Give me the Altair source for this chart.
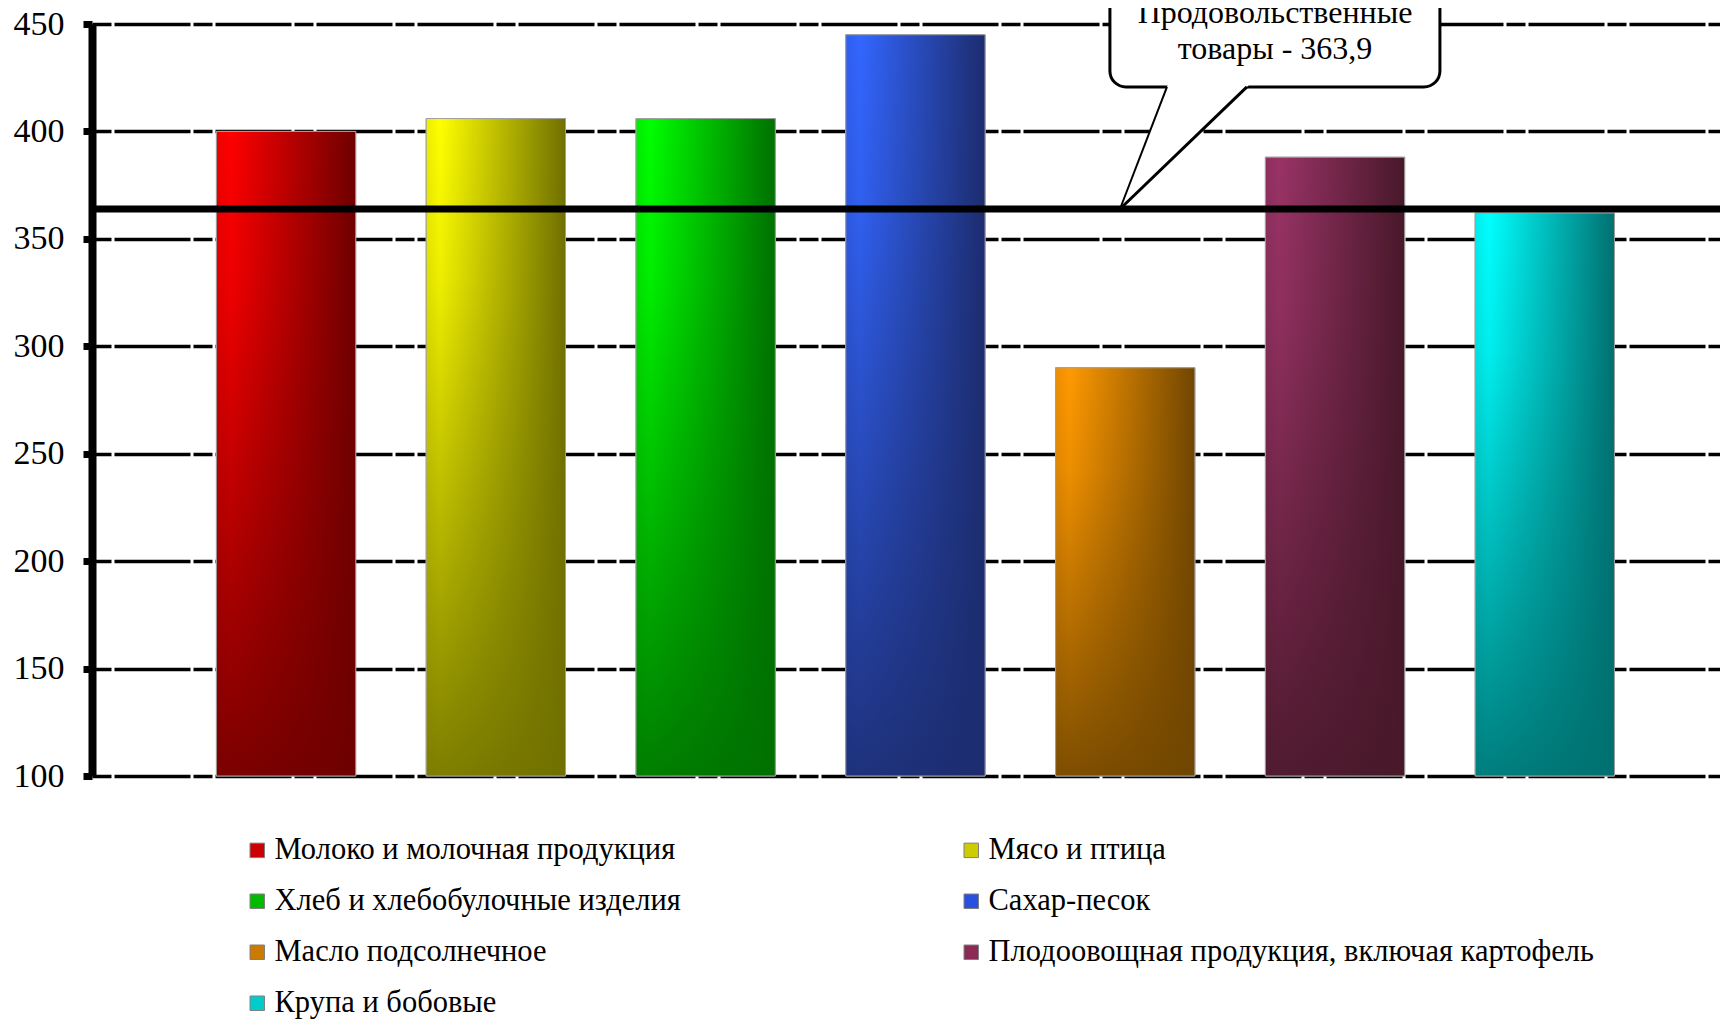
import altair as alt
import pandas as pd

categories = [
    "Молоко и молочная продукция",
    "Мясо и птица",
    "Хлеб и хлебобулочные изделия",
    "Сахар-песок",
    "Масло подсолнечное",
    "Плодоовощная продукция, включая картофель",
    "Крупа и бобовые",
]
values = [400, 406, 406, 445, 290, 388, 362]
positions = [1, 2, 3, 4, 5, 6, 7]
bright = ["#ff0000", "#ffff00", "#00ff00", "#3366ff", "#ff9900", "#993366", "#00ffff"]
dark_rgb = [(110, 0, 0), (112, 112, 0), (0, 112, 0), (28, 44, 110), (112, 70, 0), (72, 24, 42), (0, 112, 112)]
legend_colors = ["#cc0000", "#cccc00", "#00bb00", "#2a50e0", "#cc7a00", "#8a2a55", "#00cccc"]

avg_value = 363.9
avg_label = ["Продовольственные", "товары - 363,9"]
y_min, y_max = 100, 450

df = pd.DataFrame({"cat": categories, "value": values, "pos": positions})
df["base"] = y_min

FONT = "Liberation Serif"
X_DOMAIN = [0.075, 7.835]
HALF = 0.332

xs = alt.Scale(domain=X_DOMAIN, nice=False, zero=False)
ys = alt.Scale(domain=[y_min, y_max], nice=False, zero=False)

base = alt.Chart(df).transform_calculate(
    x0=f"datum.pos - {HALF}", x1=f"datum.pos + {HALF}"
)

legend_layer = base.mark_bar(stroke="#a0a0a0", strokeWidth=1).encode(
    x=alt.X("x0:Q", scale=xs, axis=None),
    x2="x1:Q",
    y=alt.Y(
        "value:Q",
        scale=ys,
        title=None,
        axis=alt.Axis(
            values=[100, 150, 200, 250, 300, 350, 400, 450],
            grid=True,
            gridColor="black",
            gridWidth=3.5,
            gridDash=[19, 3, 76, 3],
            domainColor="black",
            domainWidth=8,
            tickColor="black",
            tickWidth=7,
            tickSize=9,
            labelFont=FONT,
            labelFontSize=34,
            labelColor="black",
            labelPadding=19,
        ),
    ),
    y2="base:Q",
    color=alt.Color(
        "cat:N",
        scale=alt.Scale(domain=categories, range=legend_colors),
        sort=categories,
        legend=alt.Legend(
            title=None,
            orient="none",
            direction="horizontal",
            legendX=150,
            legendY=811,
            columns=2,
            columnPadding=275,
            rowPadding=20,
            symbolType="square",
            symbolSize=210,
            symbolStrokeColor="#808080",
            symbolStrokeWidth=1,
            labelFont=FONT,
            labelFontSize=30.5,
            labelColor="black",
            labelLimit=900,
            labelOffset=2,
            padding=0,
        ),
    ),
)

def rgba(c, a):
    return f"rgba({c[0]},{c[1]},{c[2]},{a})"

def hex_rgb(h):
    return (int(h[1:3], 16), int(h[3:5], 16), int(h[5:7], 16))

grad_layers = []
for i, c in enumerate(categories):
    b = hex_rgb(bright[i])
    d = dark_rgb[i]
    hgrad = {
        "gradient": "linear",
        "x1": 0, "y1": 0, "x2": 1, "y2": 0,
        "stops": [
            {"offset": 0.0, "color": rgba(tuple(int(v * 0.93) for v in b), 1)},
            {"offset": 0.1, "color": rgba(b, 1)},
            {"offset": 1.0, "color": rgba(d, 1)},
        ],
    }
    vgrad = {
        "gradient": "linear",
        "x1": 0, "y1": 0, "x2": 0, "y2": 1,
        "stops": [
            {"offset": 0.0, "color": rgba(d, 0)},
            {"offset": 0.25, "color": rgba(d, 0.12)},
            {"offset": 1.0, "color": rgba(d, 0.9)},
        ],
    }
    sub = base.transform_filter(alt.datum.cat == c)
    enc = dict(
        x=alt.X("x0:Q", scale=xs),
        x2="x1:Q",
        y=alt.Y("value:Q", scale=ys),
        y2="base:Q",
    )
    grad_layers.append(sub.mark_bar(color=hgrad).encode(**enc))
    grad_layers.append(
        sub.mark_bar(color=vgrad, stroke="#a0a0a0", strokeWidth=1).encode(**enc)
    )

avg_rule = alt.Chart(pd.DataFrame({"y": [avg_value]})).mark_rule(
    color="black", strokeWidth=7
).encode(y=alt.Y("y:Q", scale=ys))

box_df = pd.DataFrame({"x0": [4.927], "x1": [6.50], "y0": [420.7], "y1": [485.0]})
box = alt.Chart(box_df).mark_rect(
    fill="white", stroke="black", strokeWidth=3, cornerRadius=16
).encode(
    x=alt.X("x0:Q", scale=xs), x2="x1:Q",
    y=alt.Y("y0:Q", scale=ys), y2="y1:Q",
)

tip_x, tip_y = 4.975, avg_value
bl_x, br_x, b_y = 5.199, 5.580, 420.7
ext_y = 423.0
kl = (bl_x - tip_x) / (b_y - tip_y)
kr = (br_x - tip_x) / (b_y - tip_y)
tri_df = pd.DataFrame({
    "y": [tip_y, ext_y],
    "xa": [tip_x, tip_x + kl * (ext_y - tip_y)],
    "xb": [tip_x, tip_x + kr * (ext_y - tip_y)],
})
tri = alt.Chart(tri_df).mark_area(orient="horizontal", color="white", opacity=1).encode(
    y=alt.Y("y:Q", scale=ys),
    x=alt.X("xa:Q", scale=xs),
    x2="xb:Q",
)
edges_df = pd.DataFrame({
    "xa": [tip_x, tip_x], "ya": [tip_y, tip_y],
    "xb": [bl_x, br_x], "yb": [b_y, b_y],
    "w": [2.0, 3.0],
})
edges = alt.Chart(edges_df).mark_rule(color="black").encode(
    x=alt.X("xa:Q", scale=xs), x2="xb:Q",
    y=alt.Y("ya:Q", scale=ys), y2="yb:Q",
    strokeWidth=alt.StrokeWidth("w:Q", scale=None, legend=None),
)

txt_df = pd.DataFrame({"x": [5.714, 5.714], "y": [450.5, 433.7], "t": avg_label})
txt = alt.Chart(txt_df).mark_text(
    font=FONT, fontSize=32, color="black", align="center", baseline="alphabetic"
).encode(x=alt.X("x:Q", scale=xs), y=alt.Y("y:Q", scale=ys), text="t:N")

chart = alt.layer(
    legend_layer, *grad_layers, avg_rule, box, tri, edges, txt
).properties(
    width=1628,
    height=752,
    padding={"left": 84, "top": 16, "right": 0, "bottom": 245},
    autosize=alt.AutoSizeParams(type="none"),
    background="white",
).configure_view(stroke=None)

chart.save("out.html", embed_options={"renderer": "svg", "actions": False})
